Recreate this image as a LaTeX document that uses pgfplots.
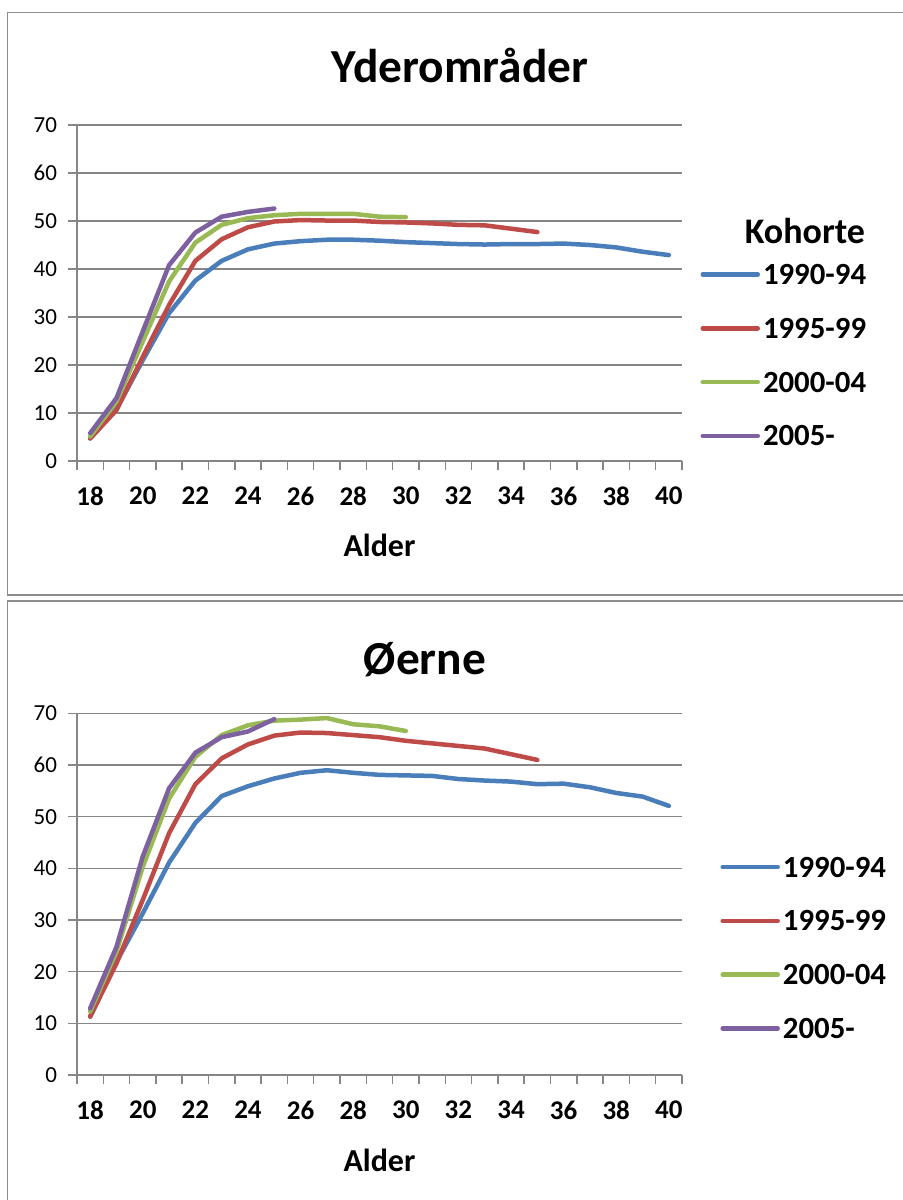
\documentclass[border=0pt]{standalone}
\usepackage{pgfplots}
\pgfplotsset{compat=1.18}
\usepackage{fontspec}
\setmainfont{Carlito}
\definecolor{cblue}{HTML}{4A7EBB}
\definecolor{cred}{HTML}{BE4B48}
\definecolor{cgreen}{HTML}{98B954}
\definecolor{cpurple}{HTML}{7D60A0}
\definecolor{cgrid}{HTML}{868686}
\definecolor{cframe}{HTML}{8C8C8C}

\pgfplotstableread{
x y
18 4.7
19 10.8
20 21.0
21 30.8
22 37.6
23 41.7
24 44.1
25 45.3
26 45.8
27 46.1
28 46.1
29 45.9
30 45.6
31 45.4
32 45.2
33 45.1
34 45.2
35 45.2
36 45.3
37 45.0
38 44.5
39 43.6
40 42.9
}\TopA
\pgfplotstableread{
x y
18 4.7
19 10.6
20 21.7
21 32.5
22 41.7
23 46.2
24 48.7
25 49.9
26 50.2
27 50.1
28 50.1
29 49.8
30 49.7
31 49.5
32 49.2
33 49.1
34 48.4
35 47.7
}\TopB
\pgfplotstableread{
x y
18 5.1
19 12.4
20 24.9
21 37.4
22 45.5
23 49.2
24 50.6
25 51.2
26 51.5
27 51.5
28 51.5
29 50.9
30 50.8
}\TopC
\pgfplotstableread{
x y
18 5.8
19 13.1
20 27.0
21 40.8
22 47.6
23 50.9
24 51.9
25 52.6
}\TopD

\pgfplotstableread{
x y
18 11.3
19 21.9
20 31.3
21 41.1
22 48.8
23 54.0
24 55.9
25 57.4
26 58.5
27 59.0
28 58.5
29 58.1
30 58.0
31 57.9
32 57.3
33 57.0
34 56.8
35 56.3
36 56.4
37 55.7
38 54.6
39 53.9
40 52.1
}\BotA
\pgfplotstableread{
x y
18 11.3
19 21.6
20 33.9
21 46.8
22 56.3
23 61.3
24 64.0
25 65.7
26 66.3
27 66.2
28 65.8
29 65.4
30 64.7
31 64.2
32 63.7
33 63.2
34 62.1
35 61.0
}\BotB
\pgfplotstableread{
x y
18 12.3
19 23.9
20 40.3
21 53.5
22 61.6
23 65.8
24 67.7
25 68.6
26 68.8
27 69.1
28 67.9
29 67.5
30 66.6
}\BotC
\pgfplotstableread{
x y
18 12.9
19 24.8
20 42.3
21 55.5
22 62.4
23 65.4
24 66.5
25 68.9
}\BotD

\pgfplotsset{
  excelstyle/.style={
    scale only axis,
    width=302.5pt,
    xmin=17.5, xmax=40.5,
    ymin=0, ymax=70,
    axis x line*=bottom,
    axis y line*=left,
    axis line style={cgrid, line width=0.75pt},
    tick style={draw=cgrid, line width=0.75pt},
    xtick style={draw=cgrid, line width=0.75pt},
    tick align=outside,
    major tick length=4.5pt,
    xtick={17.5,18.5,...,40.5},
    xticklabels={18,,20,,22,,24,,26,,28,,30,,32,,34,,36,,38,,40,,},
    ytick={0,10,...,70},
    ymajorgrids,
    major grid style={cgrid, line width=0.75pt},
    /pgf/number format/assume math mode=true,
    yticklabel style={font=\fontsize{11.5}{13}\selectfont, black, xshift=-2pt},
    xticklabel style={font=\bfseries\fontsize{13.5}{16}\selectfont, black, xshift=6.575pt, yshift=-5pt},
    xlabel={Alder},
    xlabel style={font=\bfseries\fontsize{16}{19}\selectfont, anchor=center},
    every axis plot/.append style={line width=2.25pt, line join=round, line cap=round, no markers, sharp plot},
    legend cell align=left,
    legend image code/.code={\draw[#1, line width=2.25pt, line cap=round] (0pt,0pt) -- (27.5pt,0pt);},
    legend style={draw=none, fill=none, anchor=north west,
      font=\bfseries\fontsize{15.4}{18}\selectfont,
      nodes={inner sep=0pt, text height=10pt, text depth=0pt},
      row sep=16.9pt, column sep=1.5pt},
  }
}

\begin{document}
\begin{tikzpicture}
\useasboundingbox (0pt,0pt) rectangle (451pt,-600pt);
% panel frames
\draw[cframe, line width=0.7pt] (3.75pt,-6.25pt) rectangle (460pt,-297.5pt);
\draw[cframe, line width=0.7pt] (3.75pt,-300.5pt) rectangle (460pt,-610pt);

% top chart
\node[font=\bfseries\fontsize{23.7}{28}\selectfont] at (230pt,-32.5pt) {Yderområder};
\node[font=\bfseries\fontsize{18}{21}\selectfont, anchor=base east] at (436pt,-121.75pt) {Kohorte};
\begin{axis}[excelstyle,
  at={(38.5pt,-230.5pt)}, anchor=south west,
  height=168pt,
  xlabel style={at={(axis description cs:0.5,-0.25)}},
  legend style={at={(axis description cs:1.020,0.598)}},
]
\addplot[cblue] table {\TopA};
\addplot[cred] table {\TopB};
\addplot[cgreen] table {\TopC};
\addplot[cpurple] table {\TopD};
\legend{1990-94,1995-99,2000-04,2005-}
\end{axis}

% bottom chart
\node[font=\bfseries\fontsize{23.7}{28}\selectfont] at (212.5pt,-330pt) {Øerne};
\begin{axis}[excelstyle,
  at={(38.5pt,-537.5pt)}, anchor=south west,
  height=180.8pt,
  xlabel style={at={(axis description cs:0.5,-0.235)}},
  legend style={at={(axis description cs:1.053,0.615)}},
]
\addplot[cblue] table {\BotA};
\addplot[cred] table {\BotB};
\addplot[cgreen] table {\BotC};
\addplot[cpurple] table {\BotD};
\legend{1990-94,1995-99,2000-04,2005-}
\end{axis}
\end{tikzpicture}
\end{document}
